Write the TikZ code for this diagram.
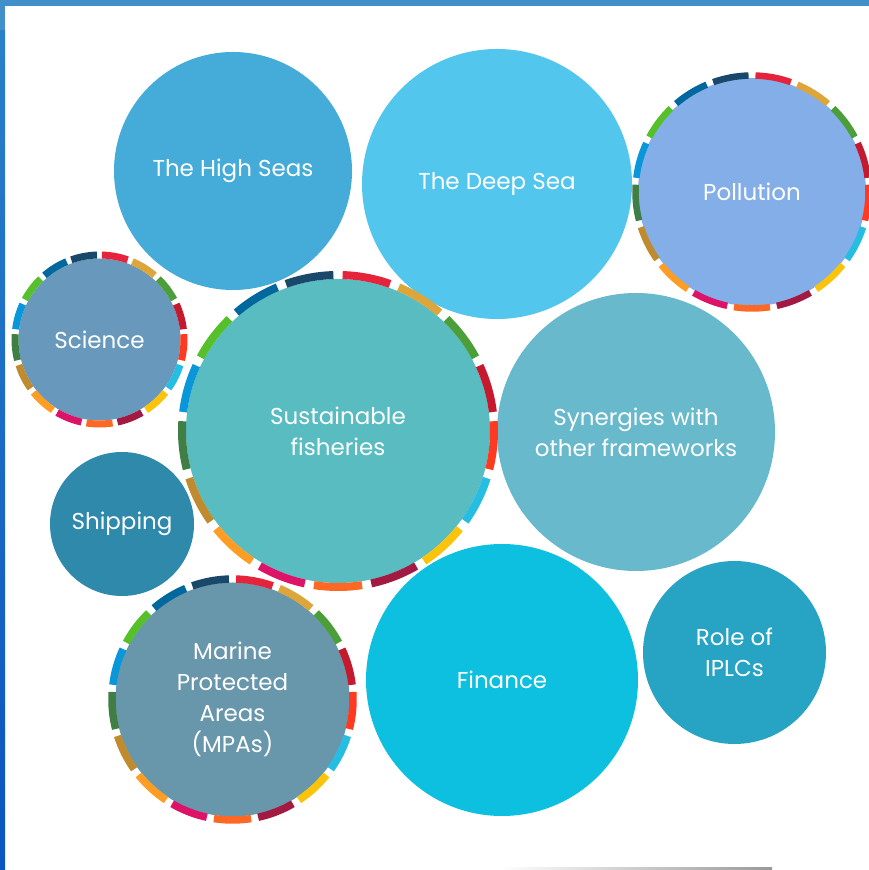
\documentclass[tikz,border=0pt]{standalone}
\usepackage{fontspec}
\setmainfont{Poppins}
\definecolor{s1}{HTML}{E5243B}
\definecolor{s2}{HTML}{DDA63A}
\definecolor{s3}{HTML}{4C9F38}
\definecolor{s4}{HTML}{C5192D}
\definecolor{s5}{HTML}{FF3A21}
\definecolor{s6}{HTML}{26BDE2}
\definecolor{s7}{HTML}{FCC30B}
\definecolor{s8}{HTML}{A21942}
\definecolor{s9}{HTML}{FD6925}
\definecolor{s10}{HTML}{DD1367}
\definecolor{s11}{HTML}{FD9D24}
\definecolor{s12}{HTML}{BF8B2E}
\definecolor{s13}{HTML}{3F7E44}
\definecolor{s14}{HTML}{0A97D9}
\definecolor{s15}{HTML}{56C02B}
\definecolor{s16}{HTML}{00689D}
\definecolor{s17}{HTML}{19486A}
\definecolor{cHS}{HTML}{45ABD8}
\definecolor{cDS}{HTML}{52C6EC}
\definecolor{cPO}{HTML}{84AEE8}
\definecolor{cSC}{HTML}{6899BC}
\definecolor{cSF}{HTML}{58BCC0}
\definecolor{cSY}{HTML}{67B9CB}
\definecolor{cSH}{HTML}{2E89AB}
\definecolor{cMP}{HTML}{6897AC}
\definecolor{cFI}{HTML}{0EC0DF}
\definecolor{cIP}{HTML}{27A3C4}
\definecolor{barTop}{HTML}{4190CA}
\definecolor{barA}{HTML}{2A80C8}
\definecolor{barB}{HTML}{0A55C0}
\newcommand\sdgring[3]{%
  \foreach \c [count=\k] in {s1,s2,s3,s4,s5,s6,s7,s8,s9,s10,s11,s12,s13,s14,s15,s16,s17} {
    \pgfmathsetmacro\sa{90-(\k-1)*360/17-1.7}
    \pgfmathsetmacro\ea{90-\k*360/17+1.7}
    \draw[\c, line width=#3] ([shift={(\sa:#2)}]#1.center) arc[start angle=\sa, end angle=\ea, radius=#2];
  }}
\begin{document}
\begin{tikzpicture}[x=1pt,y=1pt,
  bub/.style={circle, inner sep=0pt, text=white, align=center,
    font=\fontsize{23}{31}\selectfont}]
\useasboundingbox (0,0) rectangle (869,870);
\fill[white] (0,0) rectangle (869,870);
% frame
\shade[bottom color=barB, top color=barA] (0,0) rectangle (5,840);
\fill[barTop] (0,840) rectangle (5,870);
\fill[barTop] (0,864) rectangle (869,870);
\shade[left color=white, right color=gray!80] (500,0) rectangle (772,2);
% bubbles
\node[bub, fill=cHS, minimum size=238pt] (hs) at (233,699) {The High Seas};
\node[bub, fill=cDS, minimum size=270pt] (ds) at (497,686) {The Deep Sea};
\node[bub, fill=cPO, minimum size=228pt] (po) at (752,678) {Pollution};
\node[bub, fill=cSC, minimum size=162pt] (sc) at (99.5,530.5) {Science};
\node[bub, fill=cSF, minimum size=304pt] (sf) at (338,439) {Sustainable\\fisheries};
\node[bub, fill=cSY, minimum size=278pt] (sy) at (636,438) {Synergies with\\other frameworks};
\node[bub, fill=cSH, minimum size=144pt] (sh) at (122,346) {Shipping};
\node[bub, fill=cMP, minimum size=234pt] (mp) at (232.5,170.5) {Marine\\Protected\\Areas\\(MPAs)};
\node[bub, fill=cFI, minimum size=272pt] (fi) at (502,190) {Finance};
\node[bub, fill=cIP, minimum size=183pt] (ip) at (734.5,217.5) {Role of\\IPLCs};
% SDG rings
\sdgring{po}{116.5}{6.5pt}
\sdgring{sc}{84.5}{7pt}
\sdgring{sf}{156}{8pt}
\sdgring{mp}{120.5}{7.5pt}
\end{tikzpicture}
\end{document}
